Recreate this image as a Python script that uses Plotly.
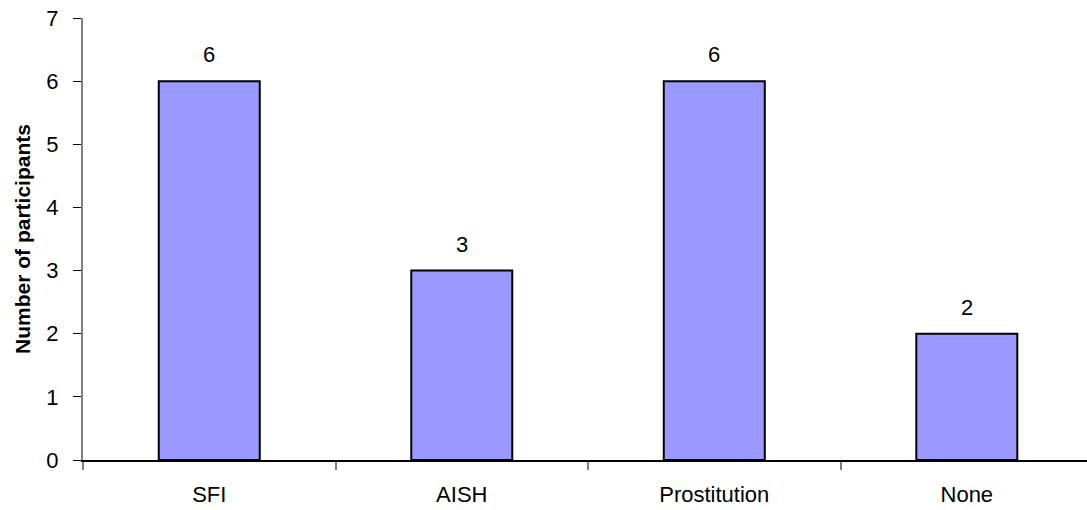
import plotly.graph_objects as go

categories = ["SFI", "AISH", "Prostitution", "None"]
participants = [6, 3, 6, 2]
y_ticks = [0, 1, 2, 3, 4, 5, 6, 7]

FONT = "Liberation Sans, Arial, sans-serif"

fig = go.Figure(
    go.Bar(
        x=categories,
        y=participants,
        width=0.4,
        marker=dict(color="#9999FF", line=dict(color="#000000", width=2)),
        hoverinfo="skip",
    )
)

# value labels above each bar
for cat, val in zip(categories, participants):
    fig.add_annotation(
        x=cat, y=val, text=str(val), showarrow=False,
        yanchor="bottom", yshift=12,
        font=dict(family=FONT, size=22, color="#000000"),
    )

fig.update_layout(
    width=1087, height=510,
    margin=dict(l=83, r=0, t=18, b=50),
    paper_bgcolor="white", plot_bgcolor="white",
    showlegend=False,
    font=dict(family=FONT, size=22, color="#000000"),
    bargap=0.6,
)

fig.update_xaxes(
    type="category",
    range=[-0.5, 3.476],
    showline=True, linecolor="#000000", linewidth=1.5,
    ticks="outside", tickson="boundaries", ticklen=8,
    tickcolor="#808080", tickwidth=2,
    showgrid=False, zeroline=False,
    tickfont=dict(family=FONT, size=22),
    ticklabelstandoff=14,
)

fig.update_yaxes(
    range=[0, 7],
    tickmode="array", tickvals=y_ticks,
    showline=True, linecolor="#808080", linewidth=2,
    ticks="outside", ticklen=8, tickcolor="#000000", tickwidth=1,
    showgrid=False, zeroline=False,
    tickfont=dict(family=FONT, size=22),
    ticklabelstandoff=10,
    title=dict(text="<b>Number of participants</b>",
               font=dict(family=FONT, size=21), standoff=10),
)

fig.write_html("out.html")
